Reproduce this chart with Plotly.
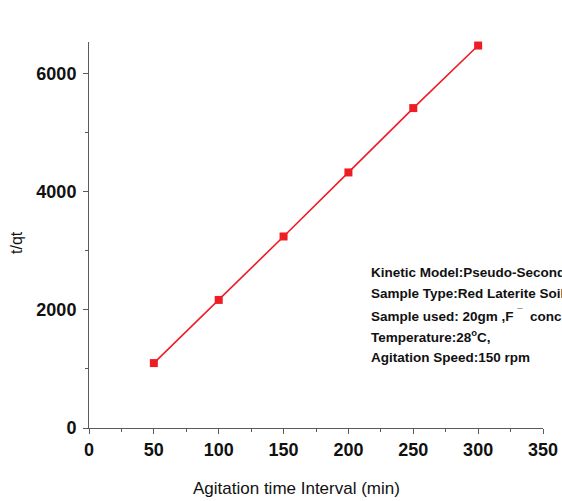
import plotly.graph_objects as go

time_min = [50, 100, 150, 200, 250, 300]
t_over_qt = [1100, 2170, 3245, 4330, 5420, 6480]

x_ticks = [0, 50, 100, 150, 200, 250, 300, 350]
y_ticks = [0, 2000, 4000, 6000]

info_lines = [
    "Kinetic Model:Pseudo-Second order",
    "Sample Type:Red Laterite Soil",
    "Sample used: 20gm ,F <sup>\u00af</sup>  conc.",
    "Temperature:28<sup>o</sup>C,",
    "Agitation Speed:150 rpm",
]

RED = "#ee1c24"
AX = "#5a5a5a"

fig = go.Figure()
fig.add_trace(go.Scatter(
    x=time_min, y=t_over_qt, mode="lines+markers",
    line=dict(color=RED, width=1.6),
    marker=dict(symbol="square", size=8, color=RED),
    showlegend=False, cliponaxis=False,
))

tickfont = dict(family="Liberation Sans, Arial", size=18, color="#111", weight="bold")

fig.update_layout(
    width=562, height=501,
    margin=dict(l=89, r=19, t=42, b=73, autoexpand=False),
    paper_bgcolor="white", plot_bgcolor="white",
    xaxis=dict(
        range=[0, 350], tickvals=x_ticks, showgrid=False, zeroline=False,
        showline=True, linecolor=AX, linewidth=1, automargin=False,
        ticks="outside", ticklen=5, tickcolor=AX,
        minor=dict(dtick=25, tick0=0, ticks="outside", ticklen=3, tickcolor=AX),
        tickfont=tickfont,
    ),
    yaxis=dict(
        range=[0, 6540], tickvals=y_ticks, showgrid=False, zeroline=False,
        showline=True, linecolor=AX, linewidth=1, automargin=False,
        ticks="outside", ticklen=5, tickcolor=AX, ticklabelstandoff=3,
        minor=dict(dtick=1000, tick0=0, ticks="outside", ticklen=3, tickcolor=AX),
        tickfont=tickfont,
    ),
)

# axis titles as annotations
fig.add_annotation(
    text="Agitation time Interval (min)", xref="paper", yref="paper",
    x=(296 - 89) / 454, y=-(488 - 428) / 386, xanchor="center", yanchor="middle",
    showarrow=False, font=dict(family="Liberation Sans, Arial", size=17, color="#111"),
)
fig.add_annotation(
    text="t/qt", xref="paper", yref="paper", textangle=-90,
    x=-(89 - 16) / 454, y=(428 - 243) / 386, xanchor="center", yanchor="middle",
    showarrow=False, font=dict(family="Liberation Sans, Arial", size=16, color="#111"),
)

for i, line in enumerate(info_lines):
    ypix = 272 + i * 21.3
    fig.add_annotation(
        text=line, xref="paper", yref="paper",
        x=(369 - 89) / 454, y=(428 - ypix) / 386, xanchor="left", yanchor="middle",
        showarrow=False, align="left",
        font=dict(family="Liberation Sans, Arial", size=13.5, color="#111", weight="bold"),
    )

fig.write_html("out.html")
